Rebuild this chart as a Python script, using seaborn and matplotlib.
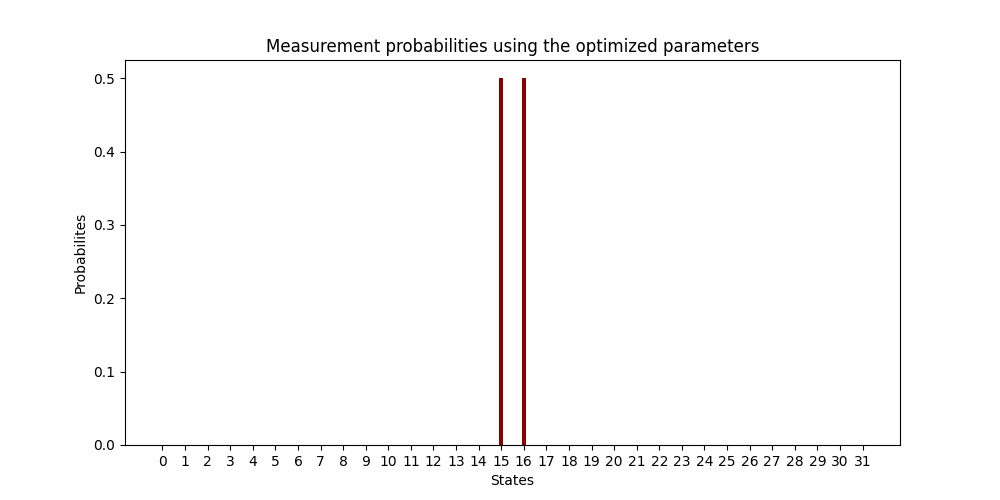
import numpy as np
import pandas as pd
import matplotlib
matplotlib.use("Agg")
import matplotlib.pyplot as plt
import seaborn as sns

states = list(range(32))
probs = [0.0] * 32
probs[15] = 0.5
probs[16] = 0.5

df = pd.DataFrame({"state": states, "prob": probs})

fig, ax = plt.subplots(figsize=(10, 5), dpi=100)
sns.barplot(data=df, x="state", y="prob", width=0.2, color="darkred",
            saturation=1, ax=ax)

ax.set_xlim(-1.66, 32.66)
ax.set_xticks(states)
ax.set_xticklabels([str(s) for s in states])
ax.set_xlabel("States")
ax.set_ylabel("Probabilites")
ax.set_title("Measurement probabilities using the optimized parameters")

plt.savefig("out.png", dpi=100)
